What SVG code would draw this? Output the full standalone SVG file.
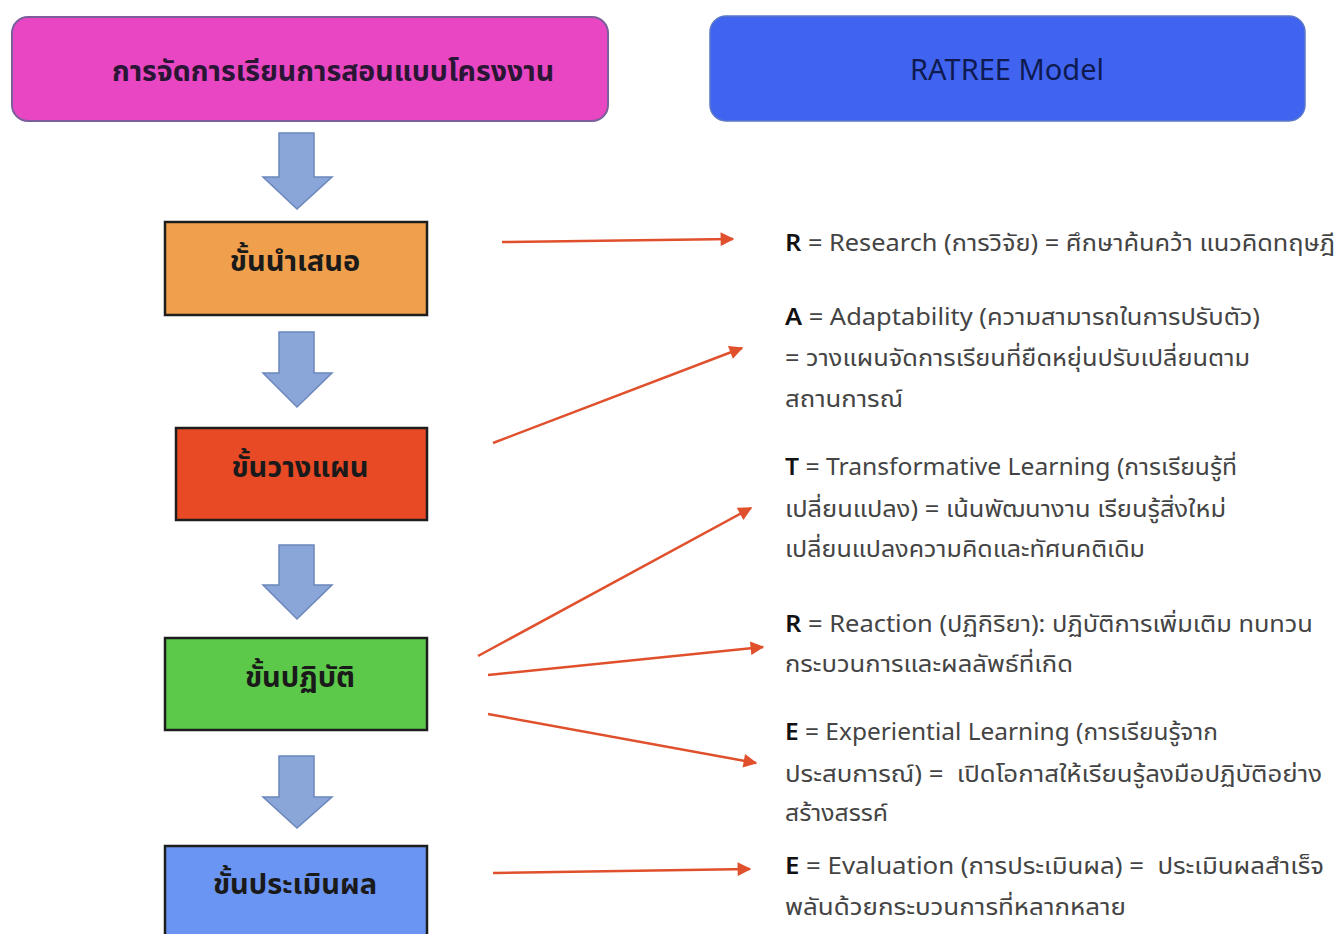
<svg xmlns="http://www.w3.org/2000/svg" width="1336" height="934" viewBox="0 0 1336 934">
<style>
.t{font-family:"Noto Sans Thai","Noto Sans","DejaVu Sans",sans-serif;}
.title{font-size:28.5px;font-weight:bold;text-anchor:middle;}
.title2{font-size:29px;text-anchor:middle;}
.step{font-size:29px;font-weight:bold;text-anchor:middle;fill:#1a1a1a;}
.box{stroke:#1e1e1e;stroke-width:2.5;}
.blk{fill:#8aa6d8;stroke:#6b87bb;stroke-width:1.5;}
.con{stroke:#e0502c;stroke-width:2.5;fill:none;marker-end:url(#ah);}
.d{font-size:23px;fill:#444;}
.k{fill:#111;font-weight:600;}
</style>
<defs>
<marker id="ah" viewBox="0 0 10 10" refX="9" refY="5" markerWidth="6" markerHeight="5.5" orient="auto" markerUnits="strokeWidth">
<path d="M0,0 L10,5 L0,10 z" fill="#e0502c"/>
</marker>
</defs>
<rect width="1336" height="934" fill="#ffffff"/>

<g id="header-left">
<rect x="12" y="17" width="596" height="104" rx="16" fill="#e946c3" stroke="#7d5e9c" stroke-width="2"/>
<text class="t title" x="333" y="81" fill="#2a1634">การจัดการเรียนการสอนแบบโครงงาน</text>
</g>
<g id="header-right">
<rect x="710" y="16" width="595" height="105" rx="16" fill="#4064f0" stroke="#5a77c8" stroke-width="1.5"/>
<text class="t title2" x="1007" y="80" fill="#0e1a50">RATREE Model</text>
</g>

<g id="flow-arrows">
<path class="blk" d="M279,133 H314 V177 H332 L297,209 L263,177 H279 Z"/>
<path class="blk" d="M279,332 H314 V373 H332 L297,407 L263,373 H279 Z"/>
<path class="blk" d="M279,545 H314 V585 H332 L297,619 L263,585 H279 Z"/>
<path class="blk" d="M279,756 H314 V797 H332 L297,828 L263,797 H279 Z"/>
</g>

<g id="step-present">
<rect class="box" x="165" y="222" width="262" height="93" fill="#f0a04c"/>
<text class="t step" x="295" y="271">ขั้นนำเสนอ</text>
</g>
<g id="step-plan">
<rect class="box" x="176" y="428" width="251" height="92" fill="#e84a26"/>
<text class="t step" x="300" y="477">ขั้นวางแผน</text>
</g>
<g id="step-do">
<rect class="box" x="165" y="638" width="262" height="92" fill="#5cc94b"/>
<text class="t step" x="300" y="687">ขั้นปฏิบัติ</text>
</g>
<g id="step-eval">
<rect class="box" x="165" y="846" width="262" height="100" fill="#6b95f2"/>
<text class="t step" x="295" y="894">ขั้นประเมินผล</text>
</g>

<g id="connectors">
<line class="con" x1="502" y1="242" x2="733" y2="239"/>
<line class="con" x1="493" y1="443" x2="742" y2="348"/>
<line class="con" x1="478" y1="656" x2="751" y2="508"/>
<line class="con" x1="488" y1="675" x2="763" y2="647"/>
<line class="con" x1="488" y1="714" x2="756" y2="763"/>
<line class="con" x1="493" y1="873" x2="750" y2="869"/>
</g>

<g id="desc-R1">
<text class="t d" x="785" y="251" textLength="550" lengthAdjust="spacingAndGlyphs"><tspan class="k">R</tspan> = Research (การวิจัย) = ศึกษาค้นคว้า แนวคิดทฤษฎี</text>
</g>
<g id="desc-A">
<text class="t d" x="785" y="325" textLength="475" lengthAdjust="spacingAndGlyphs"><tspan class="k">A</tspan> = Adaptability (ความสามารถในการปรับตัว)</text>
<text class="t d" x="785" y="366" textLength="465" lengthAdjust="spacingAndGlyphs">= วางแผนจัดการเรียนที่ยืดหยุ่นปรับเปลี่ยนตาม</text>
<text class="t d" x="785" y="407" textLength="118" lengthAdjust="spacingAndGlyphs">สถานการณ์</text>
</g>
<g id="desc-T">
<text class="t d" x="785" y="475" textLength="452" lengthAdjust="spacingAndGlyphs"><tspan class="k">T</tspan> = Transformative Learning (การเรียนรู้ที่</text>
<text class="t d" x="785" y="517" textLength="441" lengthAdjust="spacingAndGlyphs">เปลี่ยนแปลง) = เน้นพัฒนางาน เรียนรู้สิ่งใหม่</text>
<text class="t d" x="785" y="557" textLength="360" lengthAdjust="spacingAndGlyphs">เปลี่ยนแปลงความคิดและทัศนคติเดิม</text>
</g>
<g id="desc-R2">
<text class="t d" x="785" y="632" textLength="528" lengthAdjust="spacingAndGlyphs"><tspan class="k">R</tspan> = Reaction (ปฏิกิริยา): ปฏิบัติการเพิ่มเติม ทบทวน</text>
<text class="t d" x="785" y="672" textLength="288" lengthAdjust="spacingAndGlyphs">กระบวนการและผลลัพธ์ที่เกิด</text>
</g>
<g id="desc-E1">
<text class="t d" x="785" y="740" textLength="433" lengthAdjust="spacingAndGlyphs"><tspan class="k">E</tspan> = Experiential Learning (การเรียนรู้จาก</text>
<text class="t d" x="785" y="782" textLength="537" lengthAdjust="spacingAndGlyphs" xml:space="preserve">ประสบการณ์) =  เปิดโอกาสให้เรียนรู้ลงมือปฏิบัติอย่าง</text>
<text class="t d" x="785" y="821" textLength="103" lengthAdjust="spacingAndGlyphs">สร้างสรรค์</text>
</g>
<g id="desc-E2">
<text class="t d" x="785" y="874" textLength="539" lengthAdjust="spacingAndGlyphs" xml:space="preserve"><tspan class="k">E</tspan> = Evaluation (การประเมินผล) =  ประเมินผลสำเร็จ</text>
<text class="t d" x="785" y="915" textLength="341" lengthAdjust="spacingAndGlyphs">พลันด้วยกระบวนการที่หลากหลาย</text>
</g>
</svg>
